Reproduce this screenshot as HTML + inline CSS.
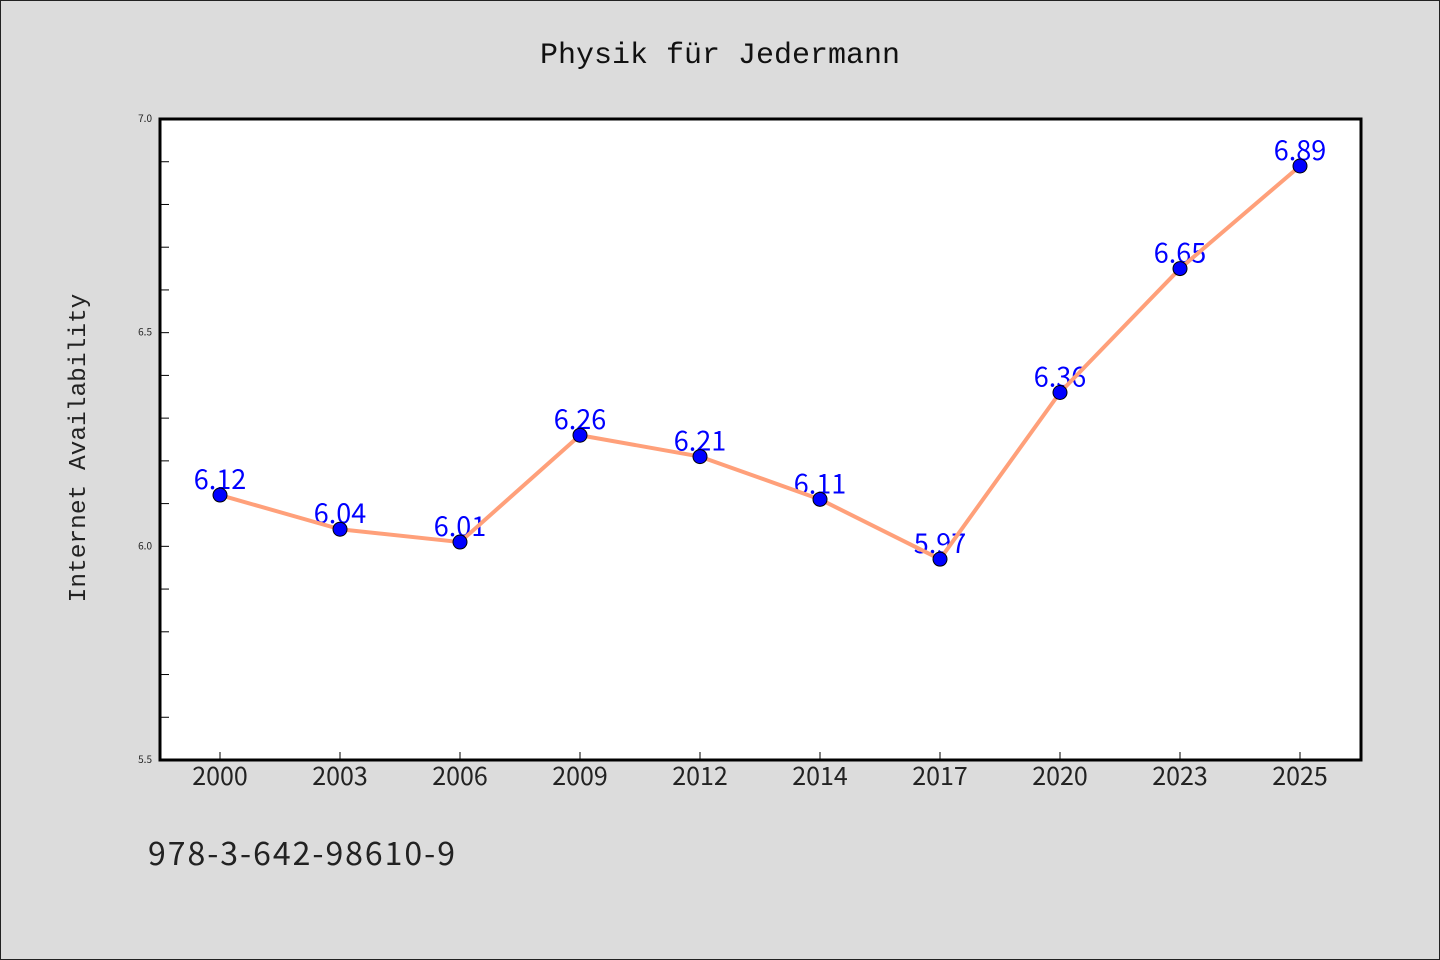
<!DOCTYPE html>
<html><head><meta charset="utf-8"><style>
html,body{margin:0;padding:0;background:#dcdcdc;}
svg{display:block;font-family:"WenQuanYi Zen Hei","Noto Sans CJK SC","DejaVu Sans",sans-serif;}
</style></head><body>
<svg id="chart" width="1440" height="960" xmlns="http://www.w3.org/2000/svg">
<rect x="0.5" y="0.5" width="1439" height="959" fill="#dcdcdc" stroke="#222"/>
<text x="720" y="63" text-anchor="middle" font-size="30" fill="#111" style="font-family:'WenQuanYi Zen Hei Mono','Liberation Mono',monospace">Physik für Jedermann</text>
<rect x="160" y="119" width="1201" height="641" fill="#fff"/>
<g id="axes"></g>
<g id="labels"></g>
<g id="series"></g>
<rect x="160" y="119" width="1201" height="641" fill="none" stroke="#000" stroke-width="3"/>
<text transform="translate(85,448) rotate(-90)" text-anchor="middle" font-size="24.5" fill="#222" style="font-family:'WenQuanYi Zen Hei Mono','Liberation Mono',monospace">Internet Availability</text>
<text x="148" y="865" font-size="32" fill="#222" textLength="307">978-3-642-98610-9</text>
</svg>
<script>
const categories=["2000","2003","2006","2009","2012","2014","2017","2020","2023","2025"];
const values=[6.12,6.04,6.01,6.26,6.21,6.11,5.97,6.36,6.65,6.89];
const yTicks=[5.5,6.0,6.5,7.0];
const yMin=5.5,yMax=7.0;
const NS="http://www.w3.org/2000/svg";
function xPos(i){return 220+i*120;}
function yPos(v){return 760-(v-yMin)/(yMax-yMin)*641;}
function mk(tag,attrs,parent){const e=document.createElementNS(NS,tag);for(const k in attrs)e.setAttribute(k,attrs[k]);parent.appendChild(e);return e;}
const axes=document.getElementById('axes'),series=document.getElementById('series'),labels=document.getElementById('labels');
yTicks.forEach(t=>{
  const tx=mk('text',{x:152,y:yPos(t)+3,'text-anchor':'end','font-size':10,fill:'#222'},axes);
  tx.textContent=t.toFixed(1);
  
  
});
for(let v=yMin+0.1;v<yMax-0.05;v+=0.1){
  const l=mk('line',{x1:160,x2:169,y1:yPos(v),y2:yPos(v),stroke:'#000','stroke-width':1},axes);
  
  
}
categories.forEach((c,i)=>{
  const l=mk('line',{x1:xPos(i),x2:xPos(i),y1:760,y2:752,stroke:'#000','stroke-width':1},axes);
  
  
  const t=mk('text',{x:xPos(i),y:785,'text-anchor':'middle','font-size':25,fill:'#222'},axes);
  t.textContent=c;
  
  
});
values.forEach((v,i)=>{
  const t=mk('text',{x:xPos(i),y:yPos(v)-6,'text-anchor':'middle','font-size':27,fill:'#0000ff'},labels);
  t.textContent=v.toFixed(2);
  
  
});
const pts=values.map((v,i)=>xPos(i)+','+yPos(v)).join(' ');
const line=mk('polyline',{points:pts,fill:'none',stroke:'#ffa07a','stroke-width':4,'stroke-linejoin':'round'},series);


values.forEach((v,i)=>{
  const c=mk('circle',{cx:xPos(i),cy:yPos(v),r:7,fill:'#0000ff',stroke:'#000','stroke-width':1},series);
  
  
});
</script>
</body></html>
